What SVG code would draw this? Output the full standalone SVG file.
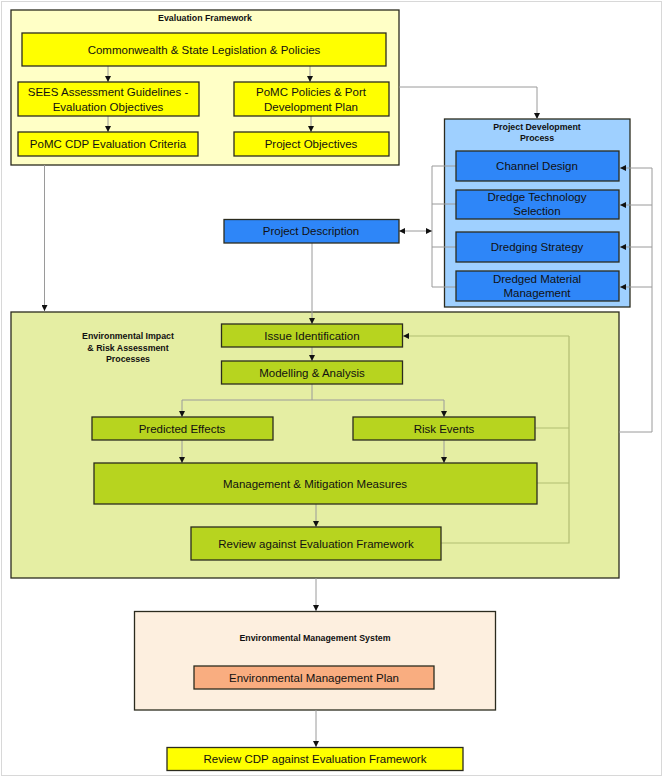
<svg xmlns="http://www.w3.org/2000/svg" width="663" height="777" viewBox="0 0 663 777">
<defs>
<style>
text{font-family:"Liberation Sans",Arial,sans-serif;fill:#111;text-anchor:middle}
.t{font-size:11.5px}
.h{font-size:8.8px;font-weight:bold}
.box{stroke:#2b2b1e;stroke-width:1.3}
.y{fill:#ffff00}
.b{fill:#2e86f8}
.g{fill:#b7d41f}
.ln{fill:none;stroke:#9a9a9a;stroke-width:1}
.lg{fill:none;stroke:#b1bd72;stroke-width:1.2}
</style>
<marker id="a" viewBox="0 0 10 10" refX="10" refY="5" markerWidth="6" markerHeight="6" orient="auto" markerUnits="userSpaceOnUse">
<path d="M0,0 L10,5 L0,10 z" fill="#111"/>
</marker>
<marker id="s" viewBox="0 0 10 10" refX="0" refY="5" markerWidth="6" markerHeight="6" orient="auto" markerUnits="userSpaceOnUse">
<path d="M10,0 L0,5 L10,10 z" fill="#111"/>
</marker>
</defs>
<rect x="0" y="0" width="663" height="777" fill="#fff"/>
<rect x="1.5" y="1.5" width="660" height="774" fill="none" stroke="#d8d8d8" stroke-width="1"/>

<g id="containers">
<g id="evaluation-framework">
<rect class="box" x="11" y="10" width="388" height="155" fill="#ffffc6"/>
<text class="h" x="205" y="21">Evaluation Framework</text>
</g>
<g id="project-development-process">
<rect class="box" x="444.5" y="119" width="185.5" height="188" fill="#9fd0ff"/>
<text class="h" x="537" y="130">Project Development</text>
<text class="h" x="537" y="141">Process</text>
</g>
<g id="eia-processes">
<rect class="box" x="11" y="312" width="608" height="266" fill="#e5eea3"/>
<text class="h" x="128" y="339">Environmental Impact</text>
<text class="h" x="128" y="350.5">&amp; Risk Assessment</text>
<text class="h" x="128" y="362">Processes</text>
</g>
<g id="ems">
<rect class="box" x="134.5" y="611.5" width="361" height="98.5" fill="#fdefdf"/>
<text class="h" x="315" y="641">Environmental Management System</text>
</g>
</g>

<g id="connectors">
<path class="ln" d="M108,66 V82" marker-end="url(#a)"/>
<path class="ln" d="M310,66 V82" marker-end="url(#a)"/>
<path class="ln" d="M108,116 V132" marker-end="url(#a)"/>
<path class="ln" d="M311,116 V132" marker-end="url(#a)"/>
<path class="ln" d="M399,87 H537 V119" marker-end="url(#a)"/>
<path class="ln" d="M44.5,165 V311" marker-end="url(#a)"/>
<path class="ln" d="M456,166 H432 V287 H456 M432,204 H456 M432,247 H456"/>
<path class="ln" d="M399,231 H432" marker-start="url(#s)" marker-end="url(#a)"/>
<path class="ln" d="M652,432 V168 M652,168 H620" marker-end="url(#a)"/>
<path class="ln" d="M652,205 H620" marker-end="url(#a)"/>
<path class="ln" d="M652,247 H620" marker-end="url(#a)"/>
<path class="ln" d="M652,287 H620" marker-end="url(#a)"/>
<path class="ln" d="M619,432 H652"/>
<path class="ln" d="M312,243 V324" marker-end="url(#a)"/>
<path class="ln" d="M312,347 V361" marker-end="url(#a)"/>
<path class="ln" d="M312,384 V400 M182,400 H444"/>
<path class="ln" d="M182,400 V417" marker-end="url(#a)"/>
<path class="ln" d="M444,400 V417" marker-end="url(#a)"/>
<path class="ln" d="M182,440 V463" marker-end="url(#a)"/>
<path class="ln" d="M444,440 V463" marker-end="url(#a)"/>
<path class="ln" d="M316,504 V527" marker-end="url(#a)"/>
<path class="lg" d="M535,428 H569 M537,483 H569 M441,543 H569 V336"/>
<path class="lg" d="M569,336 H403" marker-end="url(#a)"/>
<path class="ln" d="M316,578 V611" marker-end="url(#a)"/>
<path class="ln" d="M316,710 V747" marker-end="url(#a)"/>
</g>

<g id="commonwealth"><rect class="box y" x="22" y="33" width="364" height="33"/><text class="t" x="204" y="53.5">Commonwealth &amp; State Legislation &amp; Policies</text></g>
<g id="sees"><rect class="box y" x="18" y="82" width="181" height="34"/><text class="t" x="108" y="95.5">SEES Assessment Guidelines -</text><text class="t" x="108" y="110.5">Evaluation Objectives</text></g>
<g id="pomc-policies"><rect class="box y" x="234" y="82" width="155" height="34"/><text class="t" x="311" y="95.5">PoMC Policies &amp; Port</text><text class="t" x="311" y="110.5">Development Plan</text></g>
<g id="pomc-cdp"><rect class="box y" x="18" y="132" width="180" height="24"/><text class="t" x="108" y="148">PoMC CDP Evaluation Criteria</text></g>
<g id="project-objectives"><rect class="box y" x="234" y="132" width="155" height="24"/><text class="t" x="311" y="148">Project Objectives</text></g>

<g id="channel-design"><rect class="box b" x="456" y="151" width="163" height="30"/><text class="t" x="537" y="170">Channel Design</text></g>
<g id="dredge-technology"><rect class="box b" x="456" y="190" width="163" height="29"/><text class="t" x="537" y="201">Dredge Technology</text><text class="t" x="537" y="214.5">Selection</text></g>
<g id="dredging-strategy"><rect class="box b" x="456" y="232" width="163" height="30"/><text class="t" x="537" y="251">Dredging Strategy</text></g>
<g id="dredged-material"><rect class="box b" x="456" y="271" width="163" height="30"/><text class="t" x="537" y="283">Dredged Material</text><text class="t" x="537" y="296.5">Management</text></g>
<g id="project-description"><rect class="box b" x="224" y="219.5" width="175" height="23.5"/><text class="t" x="311" y="235">Project Description</text></g>

<g id="issue-identification"><rect class="box g" x="221.5" y="324" width="181" height="23"/><text class="t" x="312" y="339.5">Issue Identification</text></g>
<g id="modelling-analysis"><rect class="box g" x="221.5" y="361" width="181" height="23"/><text class="t" x="312" y="376.5">Modelling &amp; Analysis</text></g>
<g id="predicted-effects"><rect class="box g" x="92" y="417" width="181" height="23"/><text class="t" x="182" y="432.5">Predicted Effects</text></g>
<g id="risk-events"><rect class="box g" x="353" y="417" width="182" height="23"/><text class="t" x="444" y="432.5">Risk Events</text></g>
<g id="management-mitigation"><rect class="box g" x="94" y="463" width="443" height="41"/><text class="t" x="315" y="487.5">Management &amp; Mitigation Measures</text></g>
<g id="review-eval"><rect class="box g" x="191" y="527" width="250" height="33"/><text class="t" x="316" y="547.5">Review against Evaluation Framework</text></g>

<g id="emp"><rect class="box" x="194" y="666" width="240" height="23" fill="#f9ad80"/><text class="t" x="314" y="681.5">Environmental Management Plan</text></g>
<g id="review-cdp"><rect class="box y" x="167" y="747.5" width="296" height="23"/><text class="t" x="315" y="763">Review CDP against Evaluation Framework</text></g>
</svg>
